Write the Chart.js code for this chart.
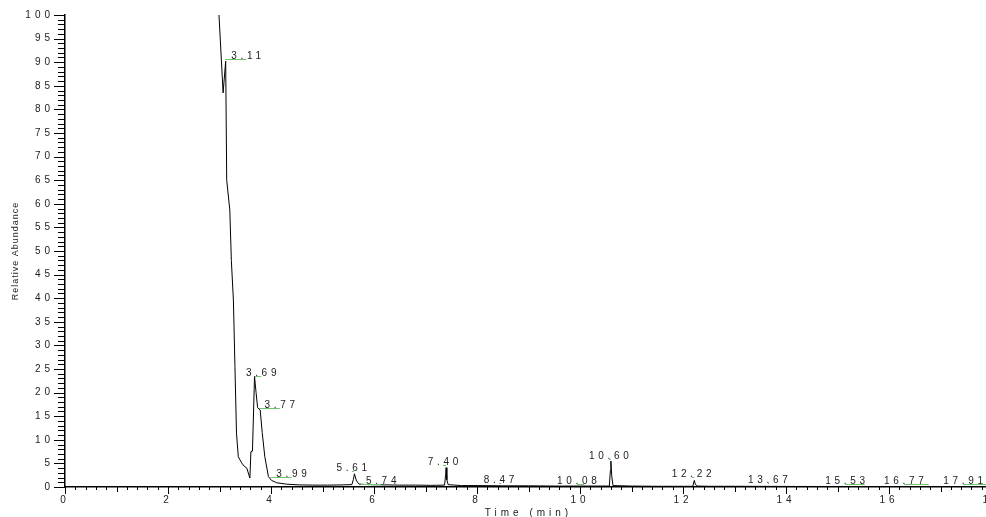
<!DOCTYPE html>
<html>
<head>
<meta charset="utf-8">
<title>Chromatogram</title>
<script src="https://cdn.jsdelivr.net/npm/chart.js@4/dist/chart.umd.min.js"></script>
<style>
  html, body { margin: 0; padding: 0; overflow: hidden; background: #fff; }
  #wrap { width: 1000px; height: 517px; }
</style>
</head>
<body>
<div id="wrap"><canvas id="chromChart"></canvas></div>
<script>
// Trace: retention time (min) and relative abundance (%)
const times = [2.97, 2.99, 3.07, 3.12, 3.14, 3.20, 3.23, 3.27, 3.30, 3.33, 3.365, 3.43, 3.48, 3.53, 3.59, 3.61, 3.64,
  3.68, 3.71, 3.74, 3.79, 3.83, 3.88, 3.95, 4.01, 4.11, 4.30, 4.55, 4.80, 5.10, 5.40, 5.57, 5.60, 5.62, 5.66, 5.71,
  5.90, 6.20, 6.50, 6.80, 7.10, 7.37, 7.39, 7.40, 7.415, 7.44, 7.70, 8.00, 8.50, 9.00, 9.50, 10.00, 10.30, 10.57,
  10.59, 10.60, 10.615, 10.64, 11.00, 11.50, 12.00, 12.19, 12.22, 12.24, 12.28, 12.50, 13.00, 14.00, 15.00, 16.00,
  17.00, 18.00];
const abundance = [101, 100, 83.5, 90.2, 65, 58.7, 48, 39.6, 25.5, 11.4, 6.4, 5.1, 4.4, 4.0, 1.9, 7.5, 7.6,
  23.4, 20, 16.8, 16.3, 11.5, 6.4, 2.2, 1.4, 0.9, 0.6, 0.45, 0.4, 0.4, 0.45, 0.5, 1.6, 2.8, 1.3, 0.6,
  0.5, 0.45, 0.4, 0.4, 0.35, 0.4, 2.5, 4.1, 1.5, 0.5, 0.3, 0.3, 0.25, 0.25, 0.2, 0.2, 0.2, 0.2,
  3.5, 5.5, 2.5, 0.3, 0.2, 0.15, 0.15, 0.15, 1.4, 0.5, 0.2, 0.15, 0.15, 0.12, 0.1, 0.1,
  0.1, 0.1];

// Peak labels: peak time, text, where the text sits
const peakTimes = [3.11, 3.69, 3.77, 3.99, 5.61, 5.74, 7.40, 8.47, 10.08, 10.60, 12.22, 13.67, 15.53, 16.77, 17.91];
const peakLabels = ["3.11", "3.69", "3.77", "3.99", "5.61", "5.74", "7.40", "8.47", "10.08", "10.60", "12.22",
  "13.67", "15.53", "16.77", "17.91"];
const labelTimes = [3.52, 3.81, 4.17, 4.40, 5.57, 6.14, 7.34, 8.43, 9.94, 10.56, 12.17, 13.65, 15.15, 16.29, 17.44];
const labelLevels = [90.6, 23.6, 16.7, 2.2, 3.35, 0.64, 4.6, 0.9, 0.7, 5.9, 2.2, 0.9, 0.7, 0.7, 0.7];

const FONT = '"Liberation Sans", Arial, sans-serif';

// spaced lettering like the original print
const spacing = {
  id: 'spacing',
  beforeDraw(chart) {
    chart.ctx.letterSpacing = '4px';
  }
};

// major / minor tick marks drawn from the scale ticks
const tickMarks = {
  id: 'tickMarks',
  afterDraw(chart) {
    const { ctx, scales: { x, y } } = chart;
    ctx.save();
    ctx.strokeStyle = '#000';
    ctx.lineWidth = 1;
    ctx.beginPath();
    x.ticks.forEach(t => {
      const px = Math.round(x.getPixelForValue(t.value)) + 0.5;
      const n = Math.round(t.value * 5);
      const len = n % 10 === 0 ? 7 : (n % 5 === 0 ? 5 : 3);
      ctx.moveTo(px, x.top);
      ctx.lineTo(px, x.top + len);
    });
    y.ticks.forEach(t => {
      const py = Math.round(y.getPixelForValue(t.value)) + 0.5;
      const len = Math.round(t.value) % 5 === 0 ? 11 : 7;
      ctx.moveTo(y.right - len, py);
      ctx.lineTo(y.right, py);
    });
    ctx.stroke();

    // y axis title
    ctx.translate(15.5, (y.top + y.bottom) / 2);
    ctx.rotate(-Math.PI / 2);
    ctx.font = '9px ' + FONT;
    ctx.letterSpacing = '1px';
    ctx.textAlign = 'center';
    ctx.textBaseline = 'middle';
    ctx.fillStyle = '#222';
    ctx.fillText('Relative Abundance', 0, 0);
    ctx.restore();
  }
};

// peak labels with the green leader lines
const peakMarks = {
  id: 'peakMarks',
  afterDatasetsDraw(chart) {
    const { ctx, scales: { x, y } } = chart;
    ctx.save();
    ctx.font = '10px ' + FONT;
    ctx.letterSpacing = '3.7px';
    ctx.textAlign = 'center';
    ctx.textBaseline = 'alphabetic';
    ctx.fillStyle = '#222';
    ctx.strokeStyle = '#6cc46c';
    ctx.lineWidth = 1;
    peakTimes.forEach((rt, i) => {
      const px = x.getPixelForValue(rt);
      const lx = x.getPixelForValue(labelTimes[i]);
      const py = Math.round(y.getPixelForValue(labelLevels[i])) + 0.5;
      ctx.beginPath();
      ctx.moveTo(px, py);
      ctx.lineTo(lx, py);
      ctx.stroke();
      ctx.fillText(peakLabels[i], lx + 1.8, py - 0.5);
    });
    ctx.restore();
  }
};

const ctx = document.getElementById('chromChart');
new Chart(ctx, {
  type: 'line',
  data: {
    datasets: [{
      data: times.map((t, i) => ({ x: t, y: abundance[i] })),
      borderColor: '#000',
      borderWidth: 1,
      pointRadius: 0,
      tension: 0
    }]
  },
  options: {
    animation: false,
    responsive: true,
    maintainAspectRatio: false,
    layout: { padding: { top: 15, right: 8, left: 0, bottom: 0 } },
    plugins: {
      legend: { display: false },
      tooltip: { enabled: false }
    },
    scales: {
      x: {
        type: 'linear',
        min: 0,
        max: 18,
        grid: { display: false, drawTicks: false },
        border: { color: '#000', width: 1.5 },
        ticks: {
          stepSize: 0.2,
          autoSkip: false,
          maxRotation: 0,
          padding: 7,
          color: '#222',
          font: { family: FONT, size: 10 },
          callback: v => (Math.round(v * 5) % 10 === 0 ? String(Math.round(v)) : '')
        },
        title: {
          display: true,
          text: 'Time (min)',
          color: '#222',
          font: { family: FONT, size: 10 },
          padding: { top: 0, bottom: -2 }
        },
        afterFit: s => { s.height = 30; s.paddingLeft = 0; s.paddingRight = 0; }
      },
      y: {
        min: 0,
        max: 100,
        grid: { display: false, drawTicks: false },
        border: { color: '#000', width: 1.5 },
        ticks: {
          stepSize: 1,
          autoSkip: false,
          padding: 11,
          color: '#222',
          font: { family: FONT, size: 10 },
          callback: v => (Math.round(v) % 5 === 0 ? String(Math.round(v)) : '')
        },
        afterFit: s => { s.width = 65; s.paddingTop = 0; s.paddingBottom = 0; }
      }
    }
  },
  plugins: [spacing, tickMarks, peakMarks]
});
</script>
</body>
</html>
